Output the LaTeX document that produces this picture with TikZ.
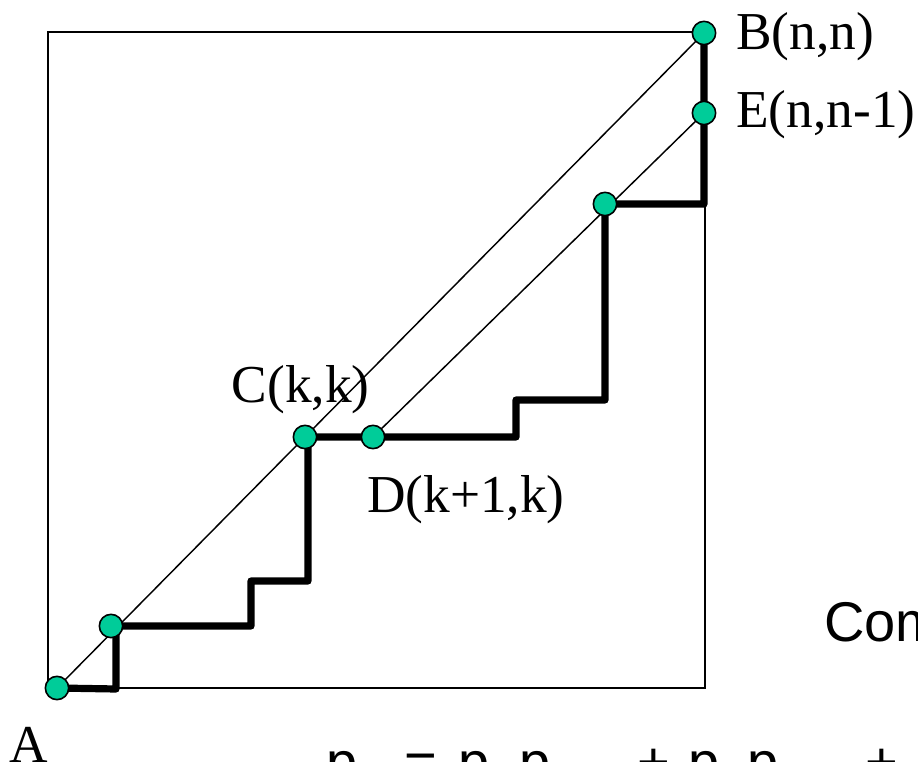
\documentclass[tikz,border=0pt]{standalone}
\usepackage{fontspec}
\setmainfont{Liberation Serif}
\newfontfamily\arialf{Liberation Sans}
\definecolor{dotgreen}{RGB}{0,204,153}
\newcommand\sbs[1]{\raisebox{-12pt}{\fontsize{37}{40}\selectfont #1}}
\begin{document}
\begin{tikzpicture}[x=0.75pt,y=-0.75pt,
  thinline/.style={line width=1.1pt},
  boxline/.style={line width=1.4pt},
  pathline/.style={line width=5.4pt, line join=round},
  dotnode/.style={circle, fill=dotgreen, draw=black, line width=1.2pt, minimum size=17.5pt, inner sep=0pt},
  lbl/.style={font=\fontsize{40}{48}\selectfont, inner sep=0pt, anchor=base west},
  slbl/.style={font=\arialf\fontsize{42}{50}\selectfont, inner sep=0pt, anchor=base west}]
\useasboundingbox (0,0) rectangle (918,762);
\clip (0,0) rectangle (918,762);
% frame
\draw[boxline] (48,32) rectangle (705,688);
% named points
\coordinate (pA) at (57,688);
\coordinate (pP) at (111,626);
\coordinate (pC) at (305,437);
\coordinate (pD) at (373,437);
\coordinate (pF) at (605,204);
\coordinate (pB) at (704,33);
\coordinate (pE) at (704,113);
% diagonals
\draw[thinline] (pA) -- (pB);
\draw[thinline] (pD) -- (pE);
% lattice path
\draw[pathline] (pA) -- (116,689) -- (116,626) -- (251,626) -- (251,581) -- (308,581)
  -- (308,437) -- (516,437) -- (516,400) -- (605,400) -- (605,204) -- (704,204) -- (pB);
% dots
\node[dotnode] (A) at (pA) {};
\node[dotnode] (P) at (pP) {};
\node[dotnode] (C) at (pC) {};
\node[dotnode] (D) at (pD) {};
\node[dotnode] (F) at (pF) {};
\node[dotnode] (B) at (pB) {};
\node[dotnode] (E) at (pE) {};
% labels
\node[lbl] (lB) at (736,50) {B(n,n)};
\node[lbl] (lE) at (736,128) {E(n,n-1)};
\node[lbl] (lC) at (231.5,403) {C(k,k)};
\node[lbl] (lD) at (367,513) {D(k+1,k)};
\node[lbl] (lA) at (9,762) {A};
\node[slbl] (lCom) at (824,642) {Com};
\node[slbl] (lF) at (326,781) {p\sbs{n}\hspace{14.7pt}=\hspace{16pt}p\sbs{0}\hspace{2pt}p\sbs{n-1}\hspace{11.8pt}+\hspace{13.7pt}p\sbs{1}p\sbs{n-2}\hspace{11.8pt}+};
\end{tikzpicture}
\end{document}
